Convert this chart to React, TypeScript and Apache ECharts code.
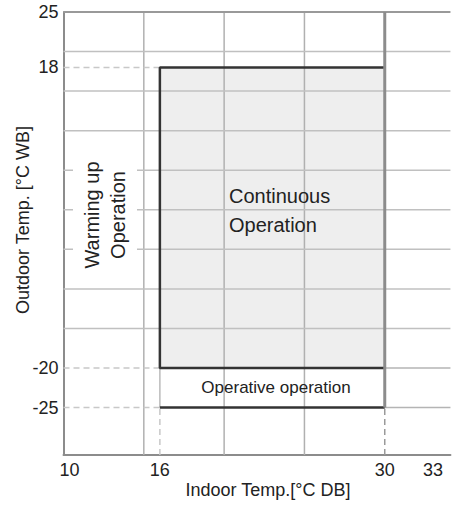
import React, { useEffect, useRef } from 'react';
import * as echarts from 'echarts';

// Axis extents and labels
const xExtent = [10, 34.09];
const yExtent = [-31, 25];
const xTickLabels = [10, 16, 30, 33];
const yTickLabels = [25, 18, -20, -25];

// Grid lines
const xGridLines = [15, 20, 25];
const yGridLinesFull = [20, 15, 10, 5, 0, -5, -10, -15];
const yGridLinesRight = [-20, -25];

// Operating ranges
const indoorRange = [16, 30];
const continuousOutdoor = [-20, 18];
const operativeOutdoor = [-25, -20];

const FONT = '"Liberation Sans", Arial, sans-serif';
const TEXT = '#222';

type Pt = [number, number];

function seg(points: Pt[], color: string, width: number, dashed = false, z = 3) {
  return {
    type: 'line',
    data: points,
    symbol: 'none',
    silent: true,
    clip: false,
    z,
    lineStyle: { color, width, type: dashed ? [6, 4] : 'solid' },
    emphasis: { disabled: true },
  };
}

export default function App() {
  const ref = useRef<HTMLDivElement>(null);
  useEffect(() => {
    if (!ref.current) return;
    const chart = echarts.init(ref.current, undefined, { renderer: 'svg' });
    const [x0, x1] = xExtent;
    const [y0, y1] = yExtent;
    const [iL, iR] = indoorRange;
    const [cB, cT] = continuousOutdoor;
    const [oB, oT] = operativeOutdoor;

    const series: any[] = [];
    // fill of continuous region
    series.push({
      type: 'line',
      data: [],
      silent: true,
      z: 1,
      markArea: {
        silent: true,
        itemStyle: { color: '#eeeeee' },
        data: [[{ coord: [iL, cT] }, { coord: [iR, cB] }]],
      },
    });
    // grid lines
    xGridLines.forEach((x) => series.push(seg([[x, y0], [x, y1]], '#b0b0b0', 1.5)));
    yGridLinesFull.forEach((y) => series.push(seg([[x0, y], [x1, y]], '#c0c0c0', 1.5)));
    yGridLinesRight.forEach((y) => series.push(seg([[iR, y], [x1, y]], '#b4b4b4', 1.5)));
    // top border
    series.push(seg([[x0, y1], [x1, y1]], '#999999', 2));
    // dashed reference lines
    [cT, cB, oB].forEach((y) => series.push(seg([[x0, y], [iL, y]], '#c8c8c8', 1.5, true)));
    series.push(seg([[iL, y0], [iL, oB]], '#c8c8c8', 1.5, true));
    series.push(seg([[iR, y0], [iR, oB]], '#9a9a9a', 1.5, true));
    // operative left side
    series.push(seg([[iL, oB], [iL, oT]], '#bbbbbb', 1.5));
    // continuous box
    series.push(seg([[iR, cB], [iL, cB], [iL, cT], [iR, cT]], '#333333', 2.5, false, 5));
    series.push(seg([[iL, oB], [iR, oB]], '#333333', 2.5, false, 5));
    // 30 line
    series.push(seg([[iR, oB], [iR, y1]], '#8c8c8c', 3, false, 6));

    chart.setOption({
      animation: false,
      grid: { left: 63.5, right: 0, top: 12, bottom: 51, containLabel: false },
      xAxis: {
        type: 'value',
        min: x0,
        max: x1,
        interval: 1,
        splitLine: { show: false },
        axisTick: { show: false },
        axisLine: { show: true, onZero: false, lineStyle: { color: '#8c8c8c', width: 2 } },
        axisLabel: {
          margin: 6,
          fontSize: 18,
          fontFamily: FONT,
          color: TEXT,
          showMaxLabel: false,
          formatter: (v: number) => {
            const r = Math.round(v * 100) / 100;
            if (!xTickLabels.includes(r)) return '';
            return r === x0 ? `{first|${r}}` : String(r);
          },
          rich: {
            first: { fontSize: 18, fontFamily: FONT, color: TEXT, padding: [0, 0, 0, 12] },
          },
        },
      },
      yAxis: {
        type: 'value',
        min: y0,
        max: y1,
        interval: 1,
        splitLine: { show: false },
        axisTick: { show: false },
        axisLine: { show: true, onZero: false, lineStyle: { color: '#8c8c8c', width: 2 } },
        axisLabel: {
          margin: 5,
          fontSize: 18,
          fontFamily: FONT,
          color: TEXT,
          formatter: (v: number) => (yTickLabels.includes(Math.round(v * 100) / 100) ? String(v) : ''),
        },
      },
      series,
      graphic: [
        {
          type: 'text',
          x: 229,
          y: 210,
          z: 100,
          style: {
            text: 'Continuous\nOperation',
            font: `20px ${FONT}`,
            fill: TEXT,
            align: 'left',
            verticalAlign: 'middle',
            lineHeight: 29,
          },
        },
        {
          type: 'text',
          x: 276,
          y: 387,
          z: 100,
          style: {
            text: 'Operative operation',
            font: `17px ${FONT}`,
            fill: TEXT,
            align: 'center',
            verticalAlign: 'middle',
          },
        },
        {
          type: 'text',
          x: 105,
          y: 215,
          z: 100,
          rotation: Math.PI / 2,
          style: {
            text: 'Warming up\nOperation',
            font: `20px ${FONT}`,
            fill: TEXT,
            align: 'center',
            verticalAlign: 'middle',
            lineHeight: 26,
            backgroundColor: '#ffffff',
            padding: [6, 4],
          },
        },
        {
          type: 'text',
          x: 268,
          y: 490,
          z: 100,
          style: {
            text: 'Indoor Temp.[°C DB]',
            font: `18px ${FONT}`,
            fill: TEXT,
            align: 'center',
            verticalAlign: 'middle',
          },
        },
        {
          type: 'text',
          x: 23,
          y: 220,
          z: 100,
          rotation: Math.PI / 2,
          style: {
            text: 'Outdoor Temp. [°C WB]',
            font: `18px ${FONT}`,
            fill: TEXT,
            align: 'center',
            verticalAlign: 'middle',
          },
        },
      ],
    });
    return () => chart.dispose();
  }, []);
  return (
    <div
      ref={ref}
      style={{ position: 'fixed', left: 0, top: 0, width: 452, height: 506, background: '#fff' }}
    />
  );
}
